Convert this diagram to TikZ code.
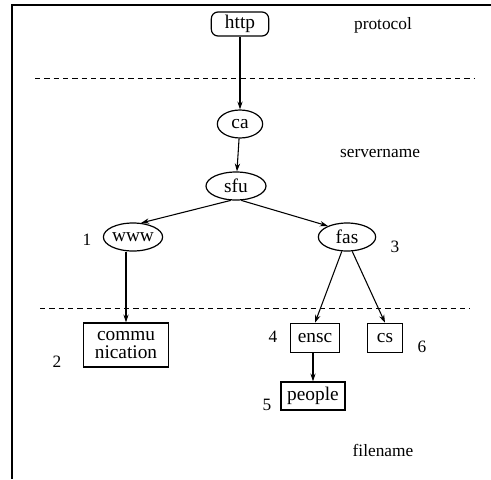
\documentclass[tikz,border=0pt]{standalone}
\usepackage{fontspec}
\setmainfont{Liberation Serif}
\usetikzlibrary{arrows.meta,shapes.geometric}

\tikzset{
    level/.style={dashed, dash pattern=on 4pt off 3pt, line width=0.7pt},
    oval/.style={draw, ellipse, line width=0.9pt, inner sep=0pt, font=\fontsize{14.5}{15}\selectfont},
    dirbox/.style={draw, rectangle, line width=0.9pt, inner sep=0pt, align=center, font=\fontsize{14.5}{13}\selectfont},
    tag/.style={font=\fontsize{13}{14}\selectfont},
    link/.style={-{Stealth[length=6pt,width=4pt]}, line width=0.8pt}
}

\begin{document}
\begin{tikzpicture}[x=0.75pt, y=-0.75pt]
    \useasboundingbox (0,0) rectangle (491,479);

    % Frame
    \draw[line width=1.3pt] (491,5) -- (12,5) -- (12,479);

    % Levels
    \draw[level] (35,78) -- (475,78);
    \draw[level] (40,308) -- (470,308);

    % Level names
    \node[tag] (protocol) at (383,25) {protocol};
    \node[tag] (servername) at (380,153) {servername};
    \node[tag] (filename) at (383,450) {filename};

    % Host part
    \node[draw, rounded corners=5pt, line width=0.9pt, minimum width=43pt, minimum height=18pt, inner sep=0pt, font=\fontsize{14.5}{15}\selectfont] (http) at (240,24) {http};
    \node[oval, minimum width=34pt, minimum height=21pt] (ca) at (240,124) {ca};
    \node[oval, minimum width=45pt, minimum height=21pt] (sfu) at (236,186) {sfu};
    \node[oval, minimum width=43pt, minimum height=21pt] (www) at (133,237) {www};
    \node[oval, minimum width=43pt, minimum height=21pt] (fas) at (347,237) {fas};

    % Path part
    \node[dirbox, minimum width=64pt, minimum height=33pt] (comm) at (126,345) {commu\\nication};
    \node[dirbox, minimum width=37pt, minimum height=22pt] (ensc) at (315,338) {ensc};
    \node[dirbox, minimum width=26pt, minimum height=22pt] (cs) at (385,338) {cs};
    \node[dirbox, minimum width=48pt, minimum height=21pt] (people) at (313,396) {people};

    % Numbers
    \node[tag] (n1) at (87,240) {1};
    \node[tag] (n2) at (57,362) {2};
    \node[tag] (n3) at (395,247) {3};
    \node[tag] (n4) at (273,337) {4};
    \node[tag] (n5) at (267,405) {5};
    \node[tag] (n6) at (422,347) {6};

    % Arrows
    \draw[link] (http) -- (ca);
    \draw[link] (ca) -- (sfu);
    \draw[link] (sfu.250) -- (www.60);
    \draw[link] (sfu.290) -- (fas.150);
    \draw[link] (comm.north |- www.south) -- (comm.north);
    \draw[link] (fas.250) -- (ensc.north);
    \draw[link] (fas.290) -- (cs.north);
    \draw[link] (people.north |- ensc.south) -- (people.north);
\end{tikzpicture}
\end{document}
